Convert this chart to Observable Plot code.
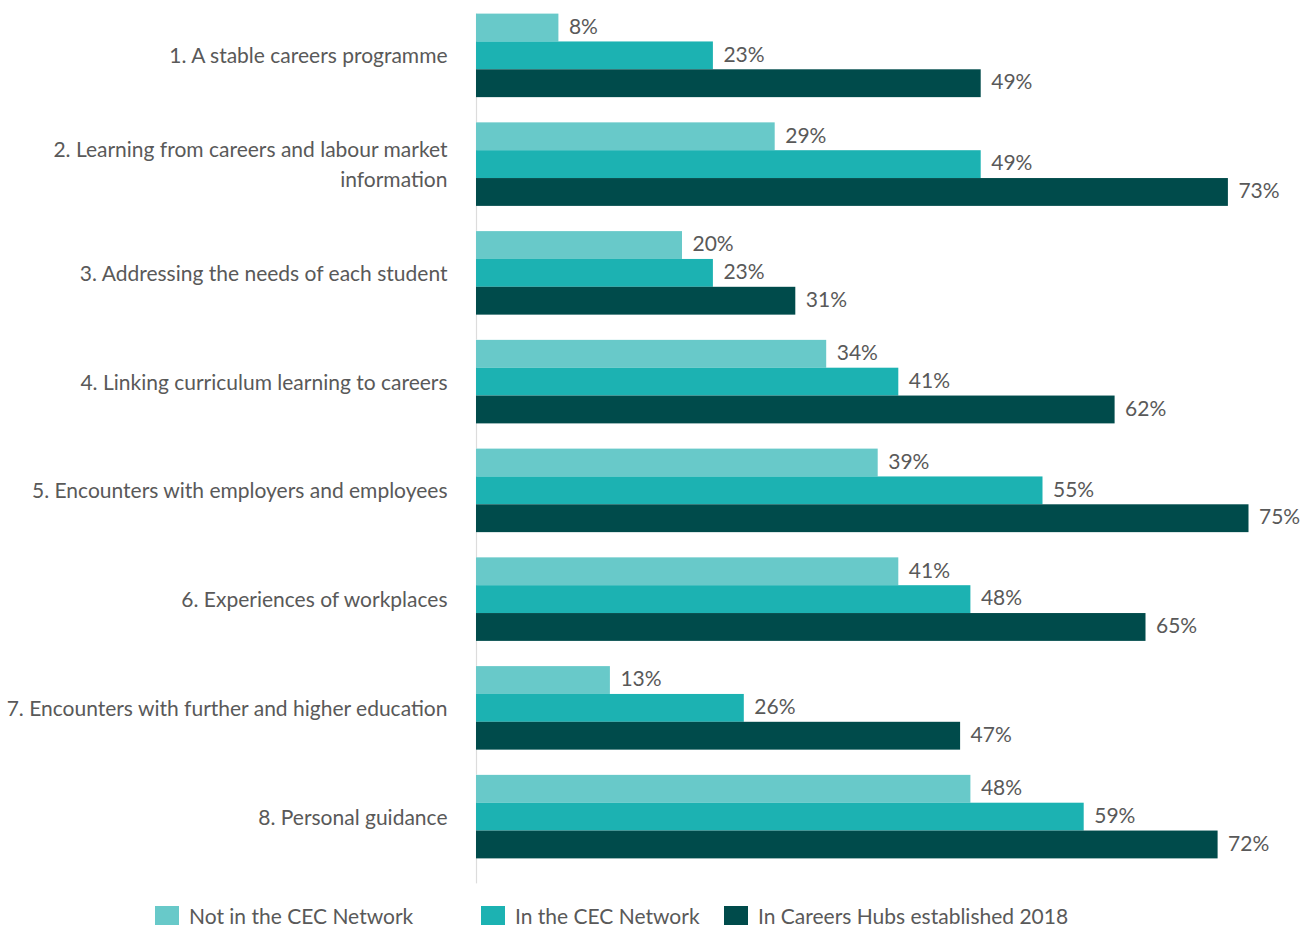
<!DOCTYPE html>
<html>
<head>
<meta charset="utf-8">
<script src="https://cdn.jsdelivr.net/npm/d3@7"></script>
<script src="https://cdn.jsdelivr.net/npm/@observablehq/plot@0.6"></script>
<style>
  html, body { margin: 0; padding: 0; background: #fff; }
  #chart { position: relative; width: 1300px; }
  #legend { position: relative; width: 1300px; height: 31px; font-family: Lato, "Open Sans", sans-serif; font-size: 21px; color: #595959; }
  .item { position: absolute; top: 5px; display: flex; align-items: center; height: 31px; white-space: nowrap; }
  .sw { width: 24px; height: 19px; margin-right: 10px; }
</style>
</head>
<body>
<div id="chart"></div>
<div id="legend"></div>
<script>
const categories = [
  "1. A stable careers programme",
  "2. Learning from careers and labour market\ninformation",
  "3. Addressing the needs of each student",
  "4. Linking curriculum learning to careers",
  "5. Encounters with employers and employees",
  "6. Experiences of workplaces",
  "7. Encounters with further and higher education",
  "8. Personal guidance"
];
const series = ["Not in the CEC Network", "In the CEC Network", "In Careers Hubs established 2018"];
const notInCEC = [8, 29, 20, 34, 39, 41, 13, 48];
const inCEC = [23, 49, 23, 41, 55, 48, 26, 59];
const careersHubs = [49, 73, 31, 62, 75, 65, 47, 72];
const colors = ["#68C9C9", "#1CB2B2", "#004B4B"];
const legendX = [155, 481, 724];

const valuesBySeries = [notInCEC, inCEC, careersHubs];
const rows = [];
categories.forEach((c, i) => {
  series.forEach((s, j) => rows.push({category: c, series: s, value: valuesBySeries[j][i]}));
});

const font = "Lato, 'Open Sans', sans-serif";
const plot = Plot.plot({
  width: 1300,
  height: 895,
  marginLeft: 476,
  marginRight: 0,
  marginTop: 1,
  marginBottom: 24,
  style: {fontFamily: font, background: "#fff"},
  x: {domain: [0, 80], axis: null},
  y: {domain: series, padding: 0, round: false, axis: null},
  fy: {domain: categories, paddingInner: 0.232, paddingOuter: 0.116, round: false, axis: null},
  color: {domain: series, range: colors},
  marks: [
    Plot.ruleX(categories, {fy: d => d, x: () => 0, stroke: "#dcdcdc", strokeWidth: 1.2, insetBottom: -25}),
    Plot.barX(rows, {x: "value", y: "series", fy: "category", fill: "series"}),
    Plot.text(rows, {x: "value", y: "series", fy: "category", text: d => d.value + "%", dx: 10, dy: -1, textAnchor: "start", fontSize: 21, fill: "#595959"}),
    Plot.text(categories, {fy: d => d, text: d => d, frameAnchor: "left", dx: -29, dy: -2, textAnchor: "end", lineHeight: 1.4, fontSize: 21, fill: "#595959"})
  ]
});
document.getElementById("chart").appendChild(plot);

const legend = document.getElementById("legend");
series.forEach((s, i) => {
  const item = document.createElement("div");
  item.className = "item";
  item.style.left = legendX[i] + "px";
  const sw = document.createElement("span");
  sw.className = "sw";
  sw.style.background = colors[i];
  const t = document.createElement("span");
  t.textContent = s;
  item.appendChild(sw);
  item.appendChild(t);
  legend.appendChild(item);
});
</script>
</body>
</html>
